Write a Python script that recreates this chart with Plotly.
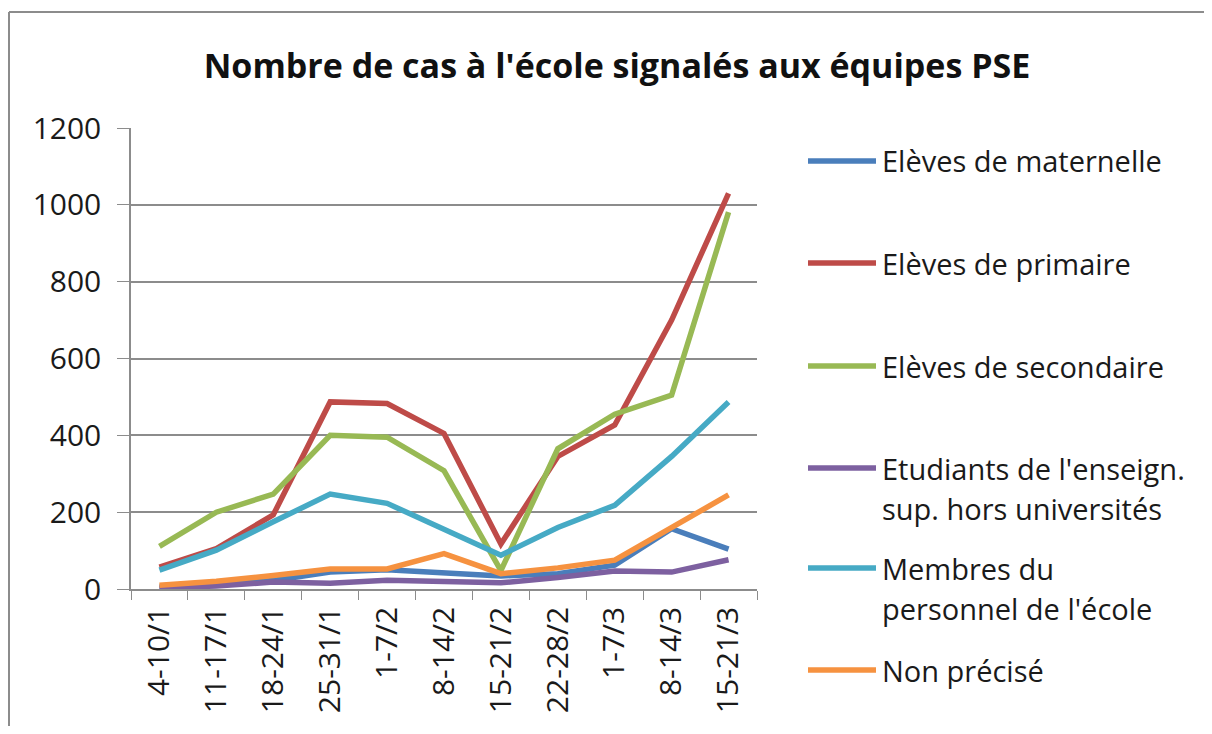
import plotly.graph_objects as go

# weeks and case counts
semaines = ["4-10/1", "11-17/1", "18-24/1", "25-31/1", "1-7/2", "8-14/2",
            "15-21/2", "22-28/2", "1-7/3", "8-14/3", "15-21/3"]
maternelle = [5, 10, 22, 44, 50, 42, 34, 40, 62, 157, 104]
primaire = [57, 105, 193, 487, 483, 405, 117, 345, 427, 700, 1030]
secondaire = [111, 200, 247, 400, 395, 308, 48, 365, 455, 505, 981]
etudiants = [2, 8, 18, 15, 23, 18, 16, 30, 47, 44, 76]
personnel = [49, 101, 175, 247, 223, 155, 88, 160, 218, 345, 487]
non_precise = [10, 20, 35, 52, 52, 92, 40, 55, 75, 160, 245]

series = [
    (["Elèves de maternelle"], maternelle, "#4A7EBB"),
    (["Elèves de primaire"], primaire, "#BE4B48"),
    (["Elèves de secondaire"], secondaire, "#98B954"),
    (["Etudiants de l'enseign.", "sup. hors universités"], etudiants, "#7D60A0"),
    (["Membres du", "personnel de l'école"], personnel, "#46AAC5"),
    (["Non précisé"], non_precise, "#F69240"),
]

FONT = "Open Sans"
OFF = 8  # page body margin
W, H = 1212 - 2 * OFF, 734 - 2 * OFF
L, R, T, B = 131 - OFF, 757 - OFF, 128 - OFF, 589 - OFF


def px(xp):
    return (xp - OFF - L) / (R - L)


def py(yp):
    return (B - (yp - OFF)) / (B - T)


fig = go.Figure()
for names, vals, col in series:
    fig.add_trace(go.Scatter(x=semaines, y=vals, mode="lines", name=" ".join(names),
                             line=dict(color=col, width=5.5), showlegend=False))

shapes = []
annotations = []

# legend drawn by hand (Excel-like spacing)
leg_y = [161, 263, 366, 468, 568, 670]
for (names, vals, col), yy in zip(series, leg_y):
    shapes.append(dict(type="line", xref="paper", yref="paper",
                       x0=px(808), x1=px(876), y0=py(yy), y1=py(yy),
                       line=dict(color=col, width=5.5)))
    for k, nm in enumerate(names):
        annotations.append(dict(text=nm, xref="paper", yref="paper",
                                x=px(880), y=py(yy + 40 * k), xanchor="left", yanchor="middle",
                                showarrow=False, font=dict(family=FONT, size=29, color="#1a1a1a")))

# chart frame (top and left edges only; the rest is cropped in the original)
frame = dict(color="#8c8c8c", width=2)
shapes.append(dict(type="line", xref="paper", yref="paper", layer="below",
                   x0=px(9), x1=px(1212), y0=py(12), y1=py(12), line=frame))
shapes.append(dict(type="line", xref="paper", yref="paper", layer="below",
                   x0=px(9), x1=px(9), y0=py(12), y1=py(734), line=frame))

fig.update_layout(
    width=W, height=H,
    margin=dict(l=L, r=W - R, t=T, b=H - B),
    paper_bgcolor="white", plot_bgcolor="white",
    title=dict(text="<b>Nombre de cas à l'école signalés aux équipes PSE</b>",
               x=(617 - OFF) / W, xanchor="center", y=1 - (66 - OFF) / H, yanchor="middle",
               font=dict(family=FONT, size=34, color="#111111")),
    shapes=shapes, annotations=annotations,
    font=dict(family=FONT, color="#1a1a1a"),
)
fig.update_xaxes(type="category", range=[-0.5, 10.5], tickangle=-90,
                 showline=True, linecolor="#8c8c8c", linewidth=1.5,
                 ticks="outside", tickson="boundaries", ticklen=9, tickcolor="#8c8c8c",
                 ticklabelstandoff=4,
                 showgrid=False, tickfont=dict(family=FONT, size=30))
fig.update_yaxes(range=[0, 1200], dtick=200, showline=True, linecolor="#8c8c8c", linewidth=1.5,
                 ticks="outside", ticklen=12, tickcolor="#8c8c8c", ticklabelstandoff=10,
                 gridcolor="#8c8c8c", gridwidth=1.5, zeroline=False,
                 tickfont=dict(family=FONT, size=30))

fig.write_html("out.html")
